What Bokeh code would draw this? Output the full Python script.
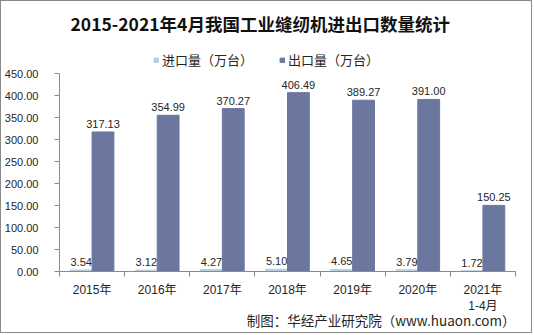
import numpy as np
from bokeh.plotting import figure
from bokeh.models import Title, Legend, LegendItem, FixedTicker, NumeralTickFormatter, ColumnDataSource
from bokeh.core.properties import value
from bokeh.embed import file_html
from bokeh.resources import INLINE

categories = ["2015年", "2016年", "2017年", "2018年", "2019年", "2020年", "2021年\n1-4月"]
imports = [3.54, 3.12, 4.27, 5.10, 4.65, 3.79, 1.72]
exports = [317.13, 354.99, 370.27, 406.49, 389.27, 391.00, 150.25]
y_ticks = [0, 50, 100, 150, 200, 250, 300, 350, 400, 450]
series_names = ["进口量（万台）", "出口量（万台）"]

IMP_COLOR = "#b8cde0"
EXP_COLOR = "#6c77a0"
FONT = "Liberation Sans, Noto Sans CJK SC"
CJK = "Noto Sans CJK SC"

n = len(categories)
centers = np.arange(n) + 0.5
bw = 0.335
y_max = 450
y_top = 525  # extra headroom inside the frame for the legend

src = ColumnDataSource(dict(
    xi=centers - bw / 2, xe=centers + bw / 2,
    imp=imports, exp=exports,
    imp_lbl=[f"{v:.2f}" for v in imports],
    exp_lbl=[f"{v:.2f}" for v in exports],
))

p = figure(width=532, height=333, x_range=(0, n), y_range=(0, y_top),
           output_backend="svg", toolbar_location=None, title=None,
           min_border_left=56, min_border_right=18, min_border_top=39, min_border_bottom=63)
p.styles = {"border": "1px solid #8a8a8a"}
p.outline_line_color = None
p.xgrid.visible = False
p.ygrid.visible = False

r_imp = p.vbar(x="xi", top="imp", width=bw, source=src, color=IMP_COLOR)
r_exp = p.vbar(x="xe", top="exp", width=bw, source=src, color=EXP_COLOR)

p.text(x="xi", y="imp", text="imp_lbl", source=src, text_align="center", text_baseline="bottom",
       y_offset=-4, text_font=value(FONT), text_font_size="11px", text_color="#262626")
p.text(x="xe", y="exp", text="exp_lbl", source=src, text_align="center", text_baseline="bottom",
       y_offset=-4, text_font=value(FONT), text_font_size="11px", text_color="#262626")

# axes
xa = p.xaxis[0]
xa.ticker = FixedTicker(ticks=list(centers), minor_ticks=list(range(n + 1)))
xa.major_label_overrides = {float(c): lab for c, lab in zip(centers, categories)}
xa.major_tick_out = 0
xa.major_tick_in = 0
xa.minor_tick_out = 5
xa.minor_tick_in = 0
xa.minor_tick_line_color = "#8a8a8a"
xa.axis_line_color = "#8a8a8a"
xa.major_label_standoff = 6
xa.major_label_text_font = FONT
xa.major_label_text_font_size = "12px"
xa.major_label_text_color = "#262626"

ya = p.yaxis[0]
ya.ticker = FixedTicker(ticks=y_ticks, minor_ticks=[])
ya.bounds = (0, y_max)
ya.formatter = NumeralTickFormatter(format="0.00")
ya.major_tick_out = 5
ya.major_tick_in = 0
ya.major_tick_line_color = "#8a8a8a"
ya.axis_line_color = "#8a8a8a"
ya.major_label_standoff = 16
ya.major_label_text_font = FONT
ya.major_label_text_font_size = "11px"
ya.major_label_text_color = "#262626"

# legend inside the headroom of the frame
legend = Legend(items=[LegendItem(label=series_names[0], renderers=[r_imp]),
                       LegendItem(label=series_names[1], renderers=[r_exp])],
                orientation="horizontal", location=(94, 202),
                glyph_width=6, glyph_height=6, label_standoff=3, spacing=26,
                padding=2, margin=0, border_line_color=None, background_fill_alpha=0,
                label_text_font=CJK, label_text_font_size="13px", label_text_color="#262626",
                label_height=16)
p.add_layout(legend, "center")

# title
p.add_layout(Title(text="2015-2021年4月我国工业缝纫机进出口数量统计", align="left", offset=11,
                   text_font=CJK, text_font_size="17.5px", text_font_style="bold",
                   text_color="#111111", standoff=9), "above")

# source note below the axis
p.add_layout(Title(text="制图：华经产业研究院（www.huaon.com）", align="right",
                   text_font=CJK, text_font_size="13.5px", text_font_style="normal",
                   text_color="#262626", standoff=-18), "below")

open("out.html", "w").write(file_html(p, INLINE))
